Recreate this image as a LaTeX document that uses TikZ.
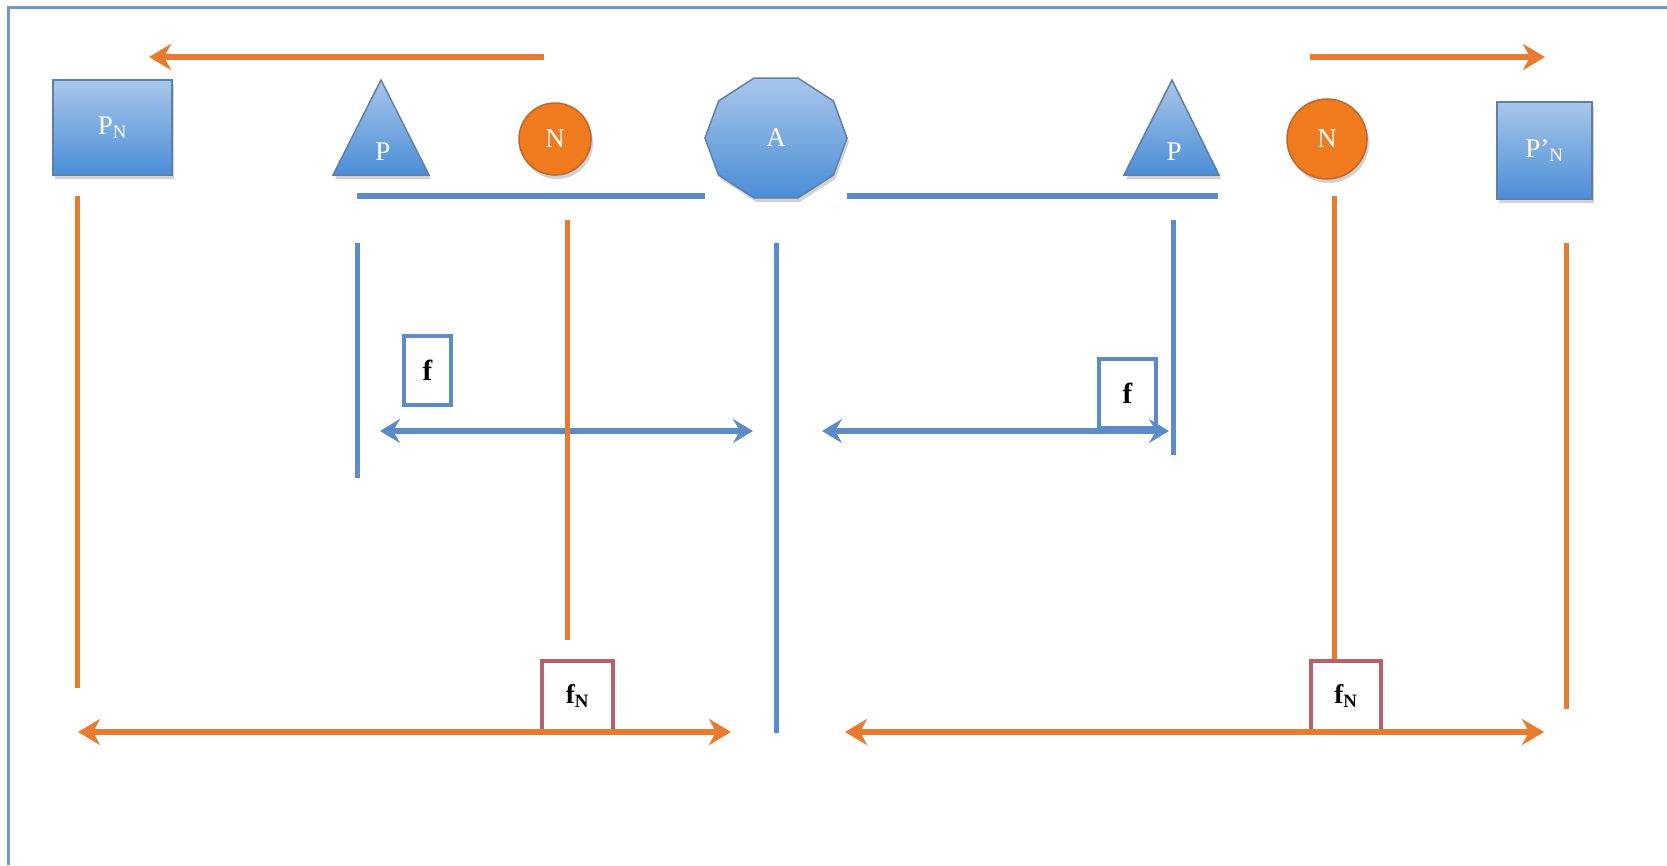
\documentclass[tikz,border=0pt]{standalone}
\usepackage{fontspec}
\setmainfont{Liberation Serif}
\usetikzlibrary{arrows.meta,shadows}
\definecolor{blueln}{HTML}{5B8BC9}
\definecolor{orangeln}{HTML}{E97B2E}
\definecolor{shtop}{HTML}{A9C6EA}
\definecolor{shbot}{HTML}{4A8ED8}
\definecolor{shdraw}{HTML}{5E80A8}
\definecolor{nfill}{HTML}{F07A1E}
\definecolor{ndraw}{HTML}{C0672E}
\definecolor{fnred}{HTML}{B9606E}
\definecolor{framec}{HTML}{6C98CC}
\begin{document}
\begin{tikzpicture}[x=1pt,y=-1pt,
  blline/.style={draw=blueln, line width=5pt},
  orline/.style={draw=orangeln, line width=5pt},
  otip/.tip={Stealth[length=22pt,width=26pt,inset=7pt]},
  btip/.tip={Stealth[length=20pt,width=24pt,inset=7pt]},
  oarrow/.style={draw=orangeln, line width=6.5pt, -otip},
  odouble/.style={draw=orangeln, line width=6.5pt, otip-otip},
  bdouble/.style={draw=blueln, line width=5.5pt, btip-btip},
  shapefill/.style={top color=shtop, bottom color=shbot, draw=shdraw, line width=1.5pt,
     drop shadow={opacity=0.35, shadow xshift=2pt, shadow yshift=-4pt}},
  bluebox/.style={shapefill, rectangle, inner sep=0pt},
  ncircle/.style={circle, fill=nfill, draw=ndraw, line width=1.5pt, inner sep=0pt,
     drop shadow={opacity=0.35, shadow xshift=2pt, shadow yshift=-4pt}},
  wlabel/.style={text=white, font=\fontsize{27}{29}\selectfont},
  fbox/.style={draw=blueln, line width=4pt, fill=white, inner sep=0pt, font=\bfseries\fontsize{29}{31}\selectfont},
  fnbox/.style={draw=fnred, line width=3.5pt, fill=white, inner sep=0pt, font=\bfseries\fontsize{27}{29}\selectfont}
]
\useasboundingbox (0,0) rectangle (1667,865);
\fill[white] (0,0) rectangle (1667,865);
% frame (only left and top edges visible)
\coordinate (frameBL) at (8,865);
\coordinate (frameTL) at (8,7);
\coordinate (frameTR) at (1667,7);
\draw[framec, line width=3pt] (frameBL) -- (frameTL) -- (frameTR);

% top arrows
\coordinate (tlS) at (544,57); \coordinate (tlE) at (149,57);
\coordinate (trS) at (1310,57); \coordinate (trE) at (1545,57);
\draw[oarrow] (tlS) -- (tlE);
\draw[oarrow] (trS) -- (trE);

% boxes PN and P'N
\node[bluebox, minimum width=119pt, minimum height=95pt] (PN) at (112.5,127.5) {};
\node[wlabel] (PNt) at (PN.center) {P\textsubscript{N}};
\node[bluebox, minimum width=95pt, minimum height=97pt] (PpN) at (1544.5,150.5) {};
\node[wlabel] (PpNt) at (PpN.center) {P’\textsubscript{N}};

% triangles
\coordinate (triLa) at (381,80); \coordinate (triLb) at (333,175); \coordinate (triLc) at (429,175);
\path[shapefill] (triLa) -- (triLc) -- (triLb) -- cycle;
\node[wlabel] (PL) at (383,152) {P};
\coordinate (triRa) at (1172,80); \coordinate (triRb) at (1124,175); \coordinate (triRc) at (1219,175);
\path[shapefill] (triRa) -- (triRc) -- (triRb) -- cycle;
\node[wlabel] (PR) at (1174,152) {P};

% N circles
\node[ncircle, minimum size=72pt] (NL) at (555,139) {};
\node[wlabel] (NLt) at (NL.center) {N};
\node[ncircle, minimum size=80pt] (NR) at (1327,139) {};
\node[wlabel] (NRt) at (NR.center) {N};

% A decagon
\coordinate (Ac) at (776,138);
\path[shapefill] plot[samples at={0,36,...,324}] ({776+71*cos(\x)},{138+63*sin(\x)}) -- cycle;
\node[wlabel] (At) at (Ac) {A};

% horizontal blue bars
\coordinate (hbL1) at (357,196); \coordinate (hbL2) at (705,196);
\coordinate (hbR1) at (847,196); \coordinate (hbR2) at (1218,196);
\draw[blline, line width=6pt] (hbL1) -- (hbL2);
\draw[blline, line width=6pt] (hbR1) -- (hbR2);

% blue verticals
\coordinate (bv1a) at (357,243); \coordinate (bv1b) at (357,478);
\coordinate (bv2a) at (776,243); \coordinate (bv2b) at (776,733);
\coordinate (bv3a) at (1173,220); \coordinate (bv3b) at (1173,455);
\draw[blline] (bv1a) -- (bv1b);
\draw[blline] (bv2a) -- (bv2b);
\draw[blline] (bv3a) -- (bv3b);

% f boxes
\node[fbox, minimum width=47pt, minimum height=69pt] (fL) at (427.5,370.5) {f};
\node[fbox, minimum width=57pt, minimum height=69pt] (fR) at (1127.5,393.5) {f};

% blue double arrows
\coordinate (baL1) at (380,431); \coordinate (baL2) at (753,431);
\coordinate (baR1) at (822,431); \coordinate (baR2) at (1169,431);
\draw[bdouble] (baL1) -- (baL2);
\draw[bdouble] (baR1) -- (baR2);

% orange verticals
\coordinate (ov1a) at (77,196); \coordinate (ov1b) at (77,688);
\coordinate (ov2a) at (567,220); \coordinate (ov2b) at (567,640);
\coordinate (ov4a) at (1566,243); \coordinate (ov4b) at (1566,709);
\draw[orline] (ov1a) -- (ov1b);
\draw[orline] (ov2a) -- (ov2b);
\draw[orline] (ov4a) -- (ov4b);

% fN boxes
\node[fnbox, minimum width=71pt, minimum height=70pt] (fNL) at (577.5,696) {f\textsubscript{N}};
\node[fnbox, minimum width=70pt, minimum height=70pt] (fNR) at (1346,696) {f\textsubscript{N}};
\coordinate (ov3a) at (1334,196);
\draw[orline] (ov3a) -- (ov3a |- fNR.north);

% orange double arrows
\coordinate (oaL1) at (78,732); \coordinate (oaL2) at (731,732);
\coordinate (oaR1) at (845,732); \coordinate (oaR2) at (1544,732);
\draw[odouble] (oaL1) -- (oaL2);
\draw[odouble] (oaR1) -- (oaR2);
\end{tikzpicture}
\end{document}
